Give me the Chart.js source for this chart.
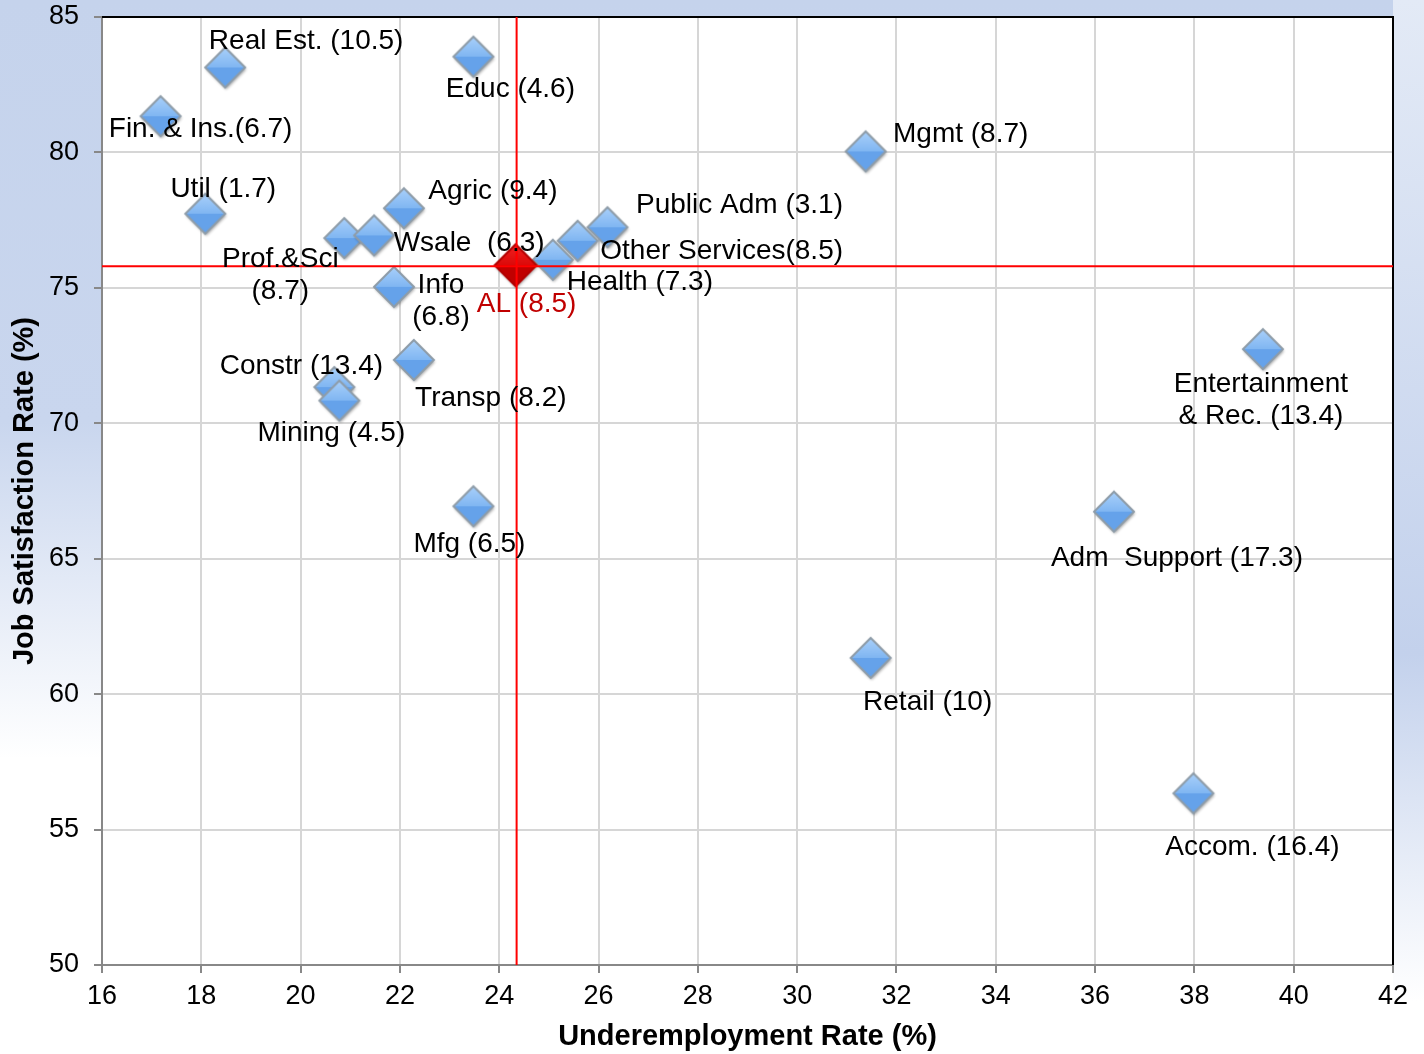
<!DOCTYPE html>
<html lang="en">
<head>
<meta charset="UTF-8">
<title>Underemployment vs Job Satisfaction</title>
<script src="https://cdn.jsdelivr.net/npm/chart.js"></script>
<style>
  html, body { margin: 0; padding: 0; background: #fff; }
  #box { width: 1424px; height: 1054px; }
</style>
</head>
<body>
<div id="box"><canvas id="myChart" width="1424" height="1054"></canvas></div>

<script>
// sectors, label text as shown on the chart
var sectors = ['Real Est. (10.5)', 'Educ (4.6)', 'Fin. & Ins.(6.7)', 'Mgmt (8.7)', 'Util (1.7)',
  'Agric (9.4)', ['Prof.&Sci', '(8.7)'], 'Wsale  (6.3)', 'Public Adm (3.1)', 'Other Services(8.5)',
  'Health (7.3)', ['Info', '(6.8)'], 'Transp (8.2)', 'Constr (13.4)', 'Mining (4.5)', 'Mfg (6.5)',
  ['Entertainment', '& Rec. (13.4)'], 'Adm  Support (17.3)', 'Retail (10)', 'Accom. (16.4)'];
var underemployment = [18.5, 23.5, 17.2, 31.4, 18.1, 22.1, 20.9, 21.5, 26.2, 25.6,
  25.1, 21.9, 22.3, 20.7, 20.8, 23.5, 39.4, 36.4, 31.5, 38.0];
var satisfaction = [83.1, 83.5, 81.3, 80.0, 77.7, 77.9, 76.8, 76.9, 77.2, 76.7,
  76.0, 75.0, 72.3, 71.3, 70.8, 66.9, 72.7, 66.7, 61.3, 56.3];

// state average
var alLabel = 'AL (8.5)';
var alUnderemployment = [24.35];
var alSatisfaction = [75.8];

var xTicks = [16, 18, 20, 22, 24, 26, 28, 30, 32, 34, 36, 38, 40, 42];
var yTicks = [50, 55, 60, 65, 70, 75, 80, 85];

// label placement (pixels from the marker, centre of text, first line)
var labelOffsets = [[80, -27], [36, 32], [39, 12], [94, -18], [17, -25],
  [88, -18], [-65, 20], [94, 7], [131, -23], [143, 9],
  [86, 22], [46, -3], [76, 37], [-34, -22], [-9, 32], [-5, 37],
  [-3, 34], [62, 46], [56, 43], [58, 53]];
var alOffset = [10, 38];

var fontFamily = '"Liberation Sans", Arial, sans-serif';

function diamond(top, mid, bottom, edge, r) {
  var c = document.createElement('canvas');
  c.width = 2 * r + 10; c.height = 2 * r + 10;
  var g = c.getContext('2d');
  var cx = r + 4, cy = r + 4;
  g.save();
  g.shadowColor = 'rgba(0,0,0,0.35)';
  g.shadowBlur = 3; g.shadowOffsetX = 1; g.shadowOffsetY = 2;
  g.beginPath();
  g.moveTo(cx, cy - r); g.lineTo(cx + r, cy); g.lineTo(cx, cy + r); g.lineTo(cx - r, cy);
  g.closePath();
  var grad = g.createLinearGradient(0, cy - r, 0, cy + r);
  grad.addColorStop(0, top);
  grad.addColorStop(0.5, mid);
  grad.addColorStop(0.51, bottom);
  grad.addColorStop(1, bottom);
  g.fillStyle = grad;
  g.fill();
  g.restore();
  g.lineWidth = 2;
  g.strokeStyle = edge;
  g.beginPath();
  g.moveTo(cx, cy - r); g.lineTo(cx + r, cy); g.lineTo(cx, cy + r); g.lineTo(cx - r, cy);
  g.closePath();
  g.stroke();
  return c;
}

var blueDiamond = diamond('#a9d0fa', '#80b6f2', '#65a2ea', '#8e9ca8', 20);
var redDiamond = diamond('#f02020', '#dc0a0a', '#c00000', '#b00000', 21);

var bgPlugin = {
  id: 'bg',
  beforeDraw: function (chart) {
    var ctx = chart.ctx, a = chart.chartArea;
    var w = chart.width, h = chart.height;
    ctx.save();
    var g1 = ctx.createLinearGradient(0, 0, 0, h);
    g1.addColorStop(0, '#c5d3ec');
    g1.addColorStop(0.4, '#c9d6ee');
    g1.addColorStop(0.72, '#ffffff');
    g1.addColorStop(1, '#ffffff');
    ctx.fillStyle = g1;
    ctx.fillRect(0, 0, w, h);
    var g2 = ctx.createLinearGradient(0, 0, 0, h);
    g2.addColorStop(0, '#e3eaf6');
    g2.addColorStop(0.62, '#c3d1ec');
    g2.addColorStop(0.95, '#ffffff');
    ctx.fillStyle = g2;
    ctx.fillRect(a.right, 0, w - a.right, h);
    ctx.fillStyle = '#ffffff';
    ctx.fillRect(a.left, a.top, a.right - a.left, a.bottom - a.top);
    ctx.restore();
  },
  afterDatasetsDraw: function (chart) {
    var ctx = chart.ctx, a = chart.chartArea;
    var xs = chart.scales.x, ys = chart.scales.y;
    ctx.save();
    // plot border top / right
    ctx.strokeStyle = '#000';
    ctx.lineWidth = 2;
    ctx.beginPath();
    ctx.moveTo(a.left, a.top); ctx.lineTo(a.right, a.top); ctx.lineTo(a.right, a.bottom);
    ctx.stroke();
    // red reference lines through AL
    var px = xs.getPixelForValue(alUnderemployment[0]);
    var py = ys.getPixelForValue(alSatisfaction[0]);
    ctx.strokeStyle = '#ff0000';
    ctx.lineWidth = 2;
    ctx.beginPath();
    ctx.moveTo(px, a.top); ctx.lineTo(px, a.bottom);
    ctx.moveTo(a.left, py); ctx.lineTo(a.right, py);
    ctx.stroke();
    // labels
    ctx.font = '28px ' + fontFamily;
    ctx.textAlign = 'center';
    ctx.textBaseline = 'middle';
    var meta = chart.getDatasetMeta(0);
    meta.data.forEach(function (pt, i) {
      var lines = [].concat(sectors[i]);
      ctx.fillStyle = '#000';
      lines.forEach(function (t, k) {
        ctx.fillText(t, pt.x + labelOffsets[i][0], pt.y + labelOffsets[i][1] + k * 32);
      });
    });
    var al = chart.getDatasetMeta(1).data[0];
    ctx.fillStyle = '#c00000';
    ctx.fillText(alLabel, al.x + alOffset[0], al.y + alOffset[1]);
    ctx.restore();
  }
};

var ctx = document.getElementById('myChart').getContext('2d');

var myChart = new Chart(ctx, {
  type: 'scatter',
  data: {
    datasets: [{
      data: underemployment.map(function (v, i) { return { x: v, y: satisfaction[i] }; }),
      pointStyle: blueDiamond,
      order: 2
    }, {
      data: alUnderemployment.map(function (v, i) { return { x: v, y: alSatisfaction[i] }; }),
      pointStyle: redDiamond,
      order: 1
    }]
  },
  options: {
    responsive: false,
    animation: false,
    layout: { padding: { top: 17, right: 31, left: 0, bottom: 0 } },
    plugins: { legend: { display: false }, tooltip: { enabled: false } },
    scales: {
      x: {
        type: 'linear',
        min: 16, max: 42,
        afterBuildTicks: function (s) { s.ticks = xTicks.map(function (v) { return { value: v }; }); },
        afterFit: function (s) { s.height = 89; s.paddingLeft = 0; s.paddingRight = 0; },
        grid: { color: '#d6d6d6', lineWidth: 2, tickLength: 8, tickColor: '#888' },
        border: { color: '#888', width: 2 },
        ticks: { color: '#000', padding: 7, maxRotation: 0, font: { family: fontFamily, size: 27 } },
        title: {
          display: true, text: 'Underemployment Rate (%)', color: '#000',
          padding: { top: 0, bottom: 0 },
          font: { family: fontFamily, size: 29, weight: 'bold' }
        }
      },
      y: {
        min: 50, max: 85,
        afterBuildTicks: function (s) { s.ticks = yTicks.map(function (v) { return { value: v }; }); },
        afterFit: function (s) { s.width = 102; s.paddingTop = 0; s.paddingBottom = 0; },
        grid: { color: '#d6d6d6', lineWidth: 2, tickLength: 8, tickColor: '#888' },
        border: { color: '#888', width: 2 },
        ticks: { color: '#000', padding: 15, font: { family: fontFamily, size: 27 } },
        title: {
          display: true, text: 'Job Satisfaction Rate (%)', color: '#000',
          padding: { top: 8, bottom: 0 },
          font: { family: fontFamily, size: 29, weight: 'bold' }
        }
      }
    }
  },
  plugins: [bgPlugin]
});
</script>
</body>
</html>
